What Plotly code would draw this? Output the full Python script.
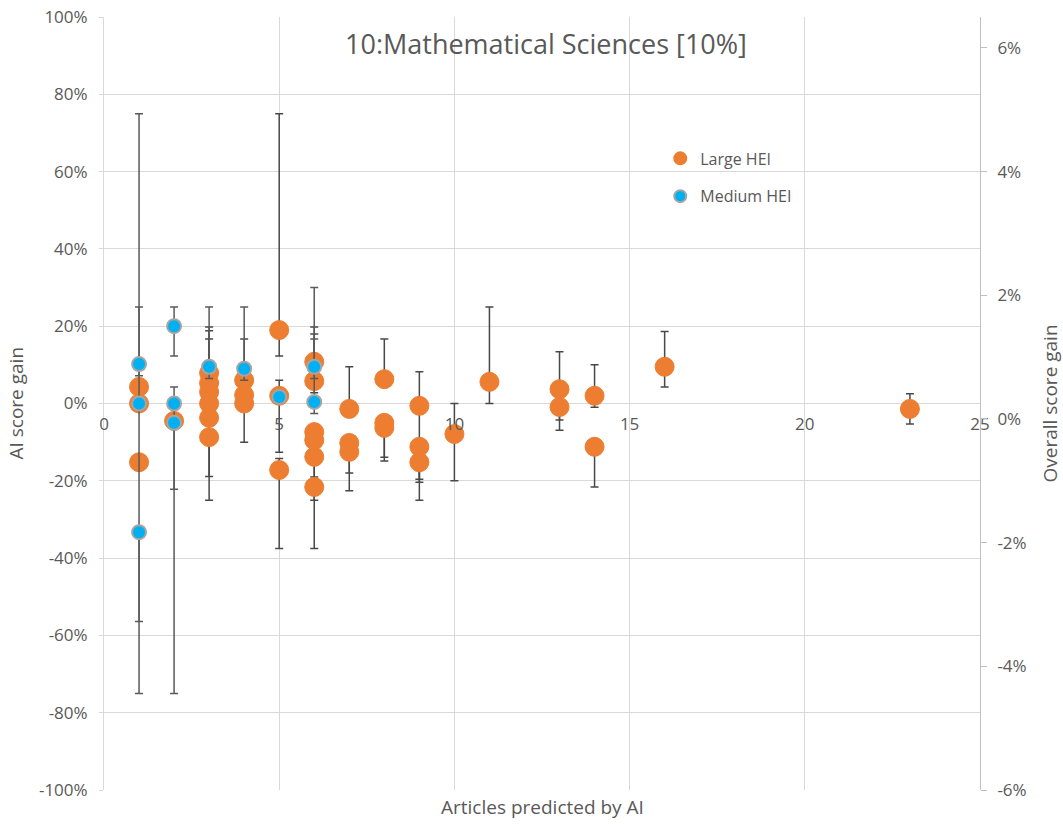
import plotly.graph_objects as go

# Large HEI (orange) points, values in %
large_x = [1, 1, 1, 2, 3, 3, 3, 3, 3, 3, 4, 4, 4, 5, 5, 5,
           6, 6, 6, 6, 6, 6, 7, 7, 7, 8, 8, 8, 9, 9, 9, 10, 11, 13, 13, 14, 14, 16, 23]
large_y = [4.3, 0, -15.2, -4.5, 7.9, 5.3, 3, 0, -3.7, -8.7, 6, 2.2, 0, 19, 2, -17.2,
           10.8, 5.8, -7.4, -9.5, -13.8, -21.6, -1.4, -10.2, -12.5, 6.3, -5, -6.3,
           -0.6, -11.2, -15.2, -7.9, 5.6, 3.7, -0.9, 2, -11.2, 9.5, -1.4]
large_err_plus = [0, 0, 0, 0, 10.9, 14.5, 13.7, 0, 0, 0, 10.7, 3, 0, 56, 4, 3,
                  9, 12.2, 0, 0, 0, 0, 10.9, 0, 0, 10.4, 0, 0,
                  8.8, 0, 0, 7.9, 19.4, 9.7, 1, 8, 0, 9.1, 3.9]
large_err_minus = [0, 0, 0, 0, 3, 3, 3, 0, 15.2, 16.3, 3, 3, 10, 6.7, 14.6, 20.3,
                   3, 3, 0, 15.5, 5.2, 15.9, 0, 7.8, 10.1, 0, 8.9, 8.6,
                   19, 9.2, 9.8, 12.1, 5.6, 8, 6, 3, 10.4, 5.2, 3.9]

# Medium HEI (blue) points, values in %
medium_x = [1, 1, 1, 2, 2, 2, 3, 4, 5, 6, 6]
medium_y = [10.2, 0, -33.3, 20, 0, -5, 9.5, 9, 1.7, 9.5, 0.4]
medium_err_plus = [14.8, 75, 0, 5, 4.3, 0, 15.5, 16, 0, 20.5, 16.3]
medium_err_minus = [3, 75, 23.1, 7.7, 22.2, 70, 3, 3, 0, 3, 3]

left_ticks = list(range(-100, 101, 20))
left_labels = [f'{v}%' for v in left_ticks]
right_ticks = [-6, -4, -2, 0, 2, 4, 6]
right_labels = [f'{v}%' for v in right_ticks]
x_ticks = [0, 5, 10, 15, 20, 25]

txt = '#595959'
grid = '#D9D9D9'
font_main = 'Open Sans'

fig = go.Figure()

fig.add_trace(go.Scatter(
    x=large_x, y=large_y, mode='markers', name='Large HEI', legendgroup='l',
    marker=dict(color='#ED7D31', size=19, line=dict(color='#ED7D31', width=1)),
    error_y=dict(type='data', symmetric=False, array=large_err_plus,
                 arrayminus=large_err_minus, color='#484848', thickness=1.5, width=4),
))

fig.add_trace(go.Scatter(
    x=medium_x, y=medium_y, mode='markers', name='Medium HEI', legendgroup='m',
    marker=dict(color='#00B0F0', size=14, line=dict(color='#A5A5A5', width=2)),
    error_y=dict(type='data', symmetric=False, array=medium_err_plus,
                 arrayminus=medium_err_minus, color='#5a5a5a', thickness=1.5, width=4),
))

# empty trace so the secondary axis gets drawn
fig.add_trace(go.Scatter(x=[None], y=[None], yaxis='y2', showlegend=False, hoverinfo='skip'))

fig.update_layout(
    width=1063, height=824,
    margin=dict(l=104, r=83, t=17, b=34),
    plot_bgcolor='white', paper_bgcolor='white',
    font=dict(family=font_main, color=txt, size=16),
    showlegend=True,
    legend=dict(x=0.635, y=0.839, xanchor='left', yanchor='top',
                bgcolor='rgba(0,0,0,0)', font=dict(size=16, color=txt),
                itemsizing='constant', tracegroupgap=14),
    xaxis=dict(range=[0, 25], tickvals=x_ticks, anchor='free', position=0.5,
               showgrid=True, gridcolor=grid, gridwidth=1, automargin=False,
               showline=False, zeroline=False, ticks='',
               ticklabelstandoff=8, tickfont=dict(size=17, color=txt)),
    yaxis=dict(range=[-100, 100], tickvals=left_ticks, ticktext=left_labels,
               showgrid=True, gridcolor=grid, gridwidth=1, automargin=False,
               zeroline=True, zerolinecolor=grid, zerolinewidth=1,
               showline=True, linecolor=grid, ticks='outside', ticklen=4, tickcolor=grid,
               ticklabelstandoff=8, tickfont=dict(size=17, color=txt)),
    yaxis2=dict(range=[-6, 6.5], tickvals=right_ticks, ticktext=right_labels,
                overlaying='y', side='right', showgrid=False, zeroline=False,
                automargin=False,
                showline=True, linecolor='#BFBFBF', ticks='outside', ticklen=6,
                tickcolor='#BFBFBF', ticklabelstandoff=7,
                tickfont=dict(size=17, color=txt)),
    shapes=[dict(type='rect', xref='paper', yref='paper', x0=0.652, x1=0.894,
                 y0=0.645, y1=0.85, fillcolor='white', line=dict(width=0),
                 layer='between')],
    annotations=[
        dict(text='10:Mathematical Sciences [10%]', xref='paper', yref='paper',
             x=0.5, y=1, xshift=4, yshift=-26, xanchor='center', yanchor='middle',
             showarrow=False, font=dict(size=27, color=txt)),
        dict(text='Articles predicted by AI', xref='paper', yref='paper',
             x=0.5, y=0, yshift=-17, xanchor='center', yanchor='middle',
             showarrow=False, font=dict(size=19, color=txt)),
        dict(text='AI score gain', xref='paper', yref='paper', textangle=-90,
             x=0, y=0.5, xshift=-89, xanchor='center', yanchor='middle',
             showarrow=False, font=dict(size=19, color=txt)),
        dict(text='Overall score gain', xref='paper', yref='paper', textangle=-90,
             x=1, y=0.5, xshift=69, xanchor='center', yanchor='middle',
             showarrow=False, font=dict(size=19, color=txt)),
    ],
)

fig.write_html('out.html', config={'displayModeBar': False},
               post_script="document.body.style.margin='0';")
